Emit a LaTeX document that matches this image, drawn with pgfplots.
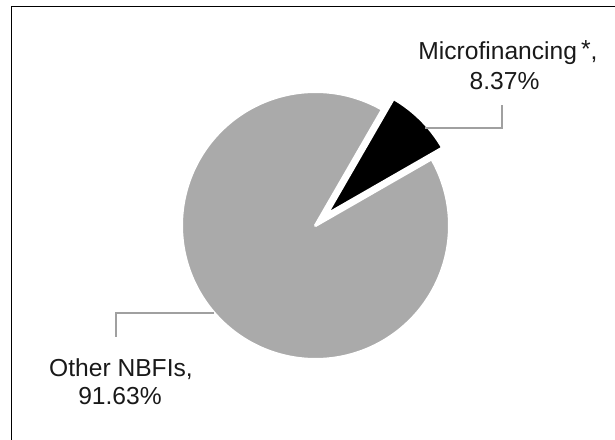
\documentclass[border=0pt]{standalone}
\usepackage{pgfplots}
\pgfplotsset{compat=1.18}
\usepackage{fontspec}
\setmainfont{Liberation Sans}
\definecolor{pieGrey}{RGB}{170,170,170}
\definecolor{leader}{RGB}{160,160,160}
% data (shares, %)
\def\vMicro{8.37}
\def\vOther{91.63}
\def\startAng{60}
\pgfmathsetmacro{\aMid}{\startAng-3.6*\vMicro}
\pgfmathsetmacro{\aEnd}{\aMid-3.6*\vOther}
\pgfmathsetmacro{\aBis}{(\startAng+\aMid)/2}
\pgfmathsetmacro{\cxB}{315.5+15.5*cos(\aBis)}
\pgfmathsetmacro{\cyB}{213.5+15.5*sin(\aBis)}
\begin{document}
\begin{tikzpicture}
\begin{axis}[
  scale only axis, width=307.5pt, height=219.5pt,
  xmin=0, xmax=615, ymin=0, ymax=439,
  hide axis, clip=false,
]
\coordinate (bl) at (0,0);
\coordinate (tr) at (615,439);
% Other NBFIs slice
\addplot[fill=pieGrey, draw=white, line width=1.5pt, line join=round,
  domain=\aEnd:\aMid, samples=240, variable=\t]
  ({315.5+134*cos(t)}, {213.5+134*sin(t)}) -- (315.5,213.5) -- cycle;
% Microfinancing slice (exploded)
\addplot[fill=black, draw=white, line width=1.5pt, line join=round,
  domain=\aMid:\startAng, samples=40, variable=\t]
  ({\cxB+134*cos(t)}, {\cyB+134*sin(t)}) -- (\cxB,\cyB) -- cycle;
% leader lines
\addplot[leader, line width=0.75pt] coordinates {(425,311) (502,311) (502,334)};
\addplot[leader, line width=0.75pt] coordinates {(214,126) (116,126) (116,102)};
% labels
\node[anchor=base, font=\fontsize{12.3pt}{15pt}\selectfont, text=black!90] at (508,379) {Microfinancing\,\raisebox{1.2pt}{*},};
\node[anchor=base, font=\fontsize{12.3pt}{15pt}\selectfont, text=black!90] at (504.5,349) {8.37\%};
\node[anchor=base, font=\fontsize{12.3pt}{15pt}\selectfont, text=black!90] at (121,63) {Other NBFIs,};
\node[anchor=base, font=\fontsize{12.3pt}{15pt}\selectfont, text=black!90] at (120,35) {91.63\%};
% chart frame
\draw[line width=0.7pt] (11.7,-20) -- (11.7,432.3) -- (640,432.3);
\end{axis}
\pgfresetboundingbox
\path[use as bounding box] (bl) rectangle (tr);
\end{tikzpicture}
\end{document}
